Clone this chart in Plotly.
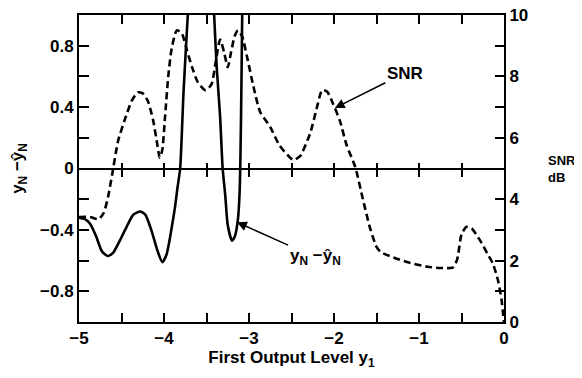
import plotly.graph_objects as go

# ---- data ----
snr_x = [-5.0, -4.87, -4.77, -4.71, -4.66, -4.61, -4.54, -4.46, -4.38, -4.31, -4.25, -4.19,
         -4.13, -4.08, -4.05, -4.02, -3.99, -3.95, -3.91, -3.85, -3.79, -3.73, -3.67, -3.60,
         -3.51, -3.44, -3.39, -3.34, -3.29, -3.25, -3.21, -3.17, -3.13, -3.08, -3.02, -2.95,
         -2.87, -2.75, -2.64, -2.48, -2.40, -2.28, -2.20, -2.14, -2.08, -2.01, -1.93, -1.85,
         -1.75, -1.66, -1.58, -1.50, -1.45, -1.30, -1.10, -0.90, -0.75, -0.60, -0.55, -0.50,
         -0.44, -0.38, -0.28, -0.19, -0.13, -0.07, -0.03, -0.01, 0.0]
snr_db = [3.42, 3.42, 3.35, 3.55, 4.05, 4.8, 5.9, 6.6, 7.2, 7.48, 7.45, 7.2,
          6.6, 5.8, 5.35, 5.6, 6.6, 8.0, 8.9, 9.5, 9.4, 8.85, 8.3, 7.8,
          7.55, 7.75, 8.5, 9.2, 8.75, 8.3, 8.8, 9.3, 9.5, 9.3, 8.6, 7.7,
          6.85, 6.35, 5.75, 5.28, 5.4, 6.15, 7.0, 7.55, 7.5, 7.1, 6.55, 5.75,
          5.05, 4.0, 3.1, 2.45, 2.28, 2.1, 1.92, 1.8, 1.76, 1.78, 2.05, 2.85,
          3.1, 3.05, 2.65, 2.2, 1.9, 1.35, 0.75, 0.25, 0.0]

err_x = [-5.0, -4.93, -4.87, -4.80, -4.73, -4.66, -4.60, -4.52, -4.44, -4.36, -4.28, -4.22,
         -4.15, -4.08, -4.02, -3.97, -3.92, -3.87, -3.84, -3.81, -3.77, -3.72, -3.66, -3.56,
         -3.45, -3.41, -3.38, -3.34, -3.31, -3.28, -3.25, -3.20, -3.165, -3.13, -3.11, -3.10,
         -3.09, -3.08, -3.07]
err_y = [-0.32, -0.33, -0.36, -0.44, -0.54, -0.57, -0.55, -0.47, -0.38, -0.30, -0.28, -0.30,
         -0.40, -0.53, -0.61, -0.56, -0.42, -0.25, -0.12, 0.0, 0.5, 1.0, 1.5, 2.0,
         1.5, 1.0, 0.66, 0.34, 0.0, -0.17, -0.37, -0.47, -0.44, -0.33, -0.15, 0.1,
         0.5, 1.0, 1.5]

x_tickvals = [-5, -4, -3, -2, -1, 0]
x_ticktext = ["\u22125", "\u22124", "\u22123", "\u22122", "\u22121", "0"]
x_minorvals = [-4.5, -3.5, -2.5, -1.5, -0.5]
x_inner_ticks = [-4.5, -4.0, -3.5, -3.0, -2.5, -2.0, -1.5, -1.0, -0.5]
y_tickvals = [-0.8, -0.4, 0.0, 0.4, 0.8]
y_ticktext = ["\u22120.8", "\u22120.4", "0", "0.4", "0.8"]
y_minorvals = [-0.6, -0.2, 0.2, 0.6]
y2_tickvals = [0, 2, 4, 6, 8, 10]
y2_ticktext = ["0", "2", "4", "6", "8", "10"]
y2_minorvals = [1, 3, 5, 7, 9]

FONT = "Liberation Sans, Arial, sans-serif"
TK = dict(ticks="inside", tickwidth=1.5, tickcolor="black")

fig = go.Figure()
fig.add_trace(go.Scatter(x=snr_x, y=snr_db, xaxis="x3", yaxis="y2", mode="lines",
                         line=dict(color="black", width=2.6, dash="7px,4px", shape="spline", smoothing=0.6),
                         hoverinfo="skip"))
fig.add_trace(go.Scatter(x=err_x, y=err_y, xaxis="x", yaxis="y", mode="lines",
                         line=dict(color="black", width=2.6, shape="spline", smoothing=0.6),
                         hoverinfo="skip"))

# page body has an 8px margin, so the figure is sized to fit the 582x378 window
fig.update_layout(
    width=566, height=362,
    margin=dict(l=71, r=70, t=7, b=48),
    paper_bgcolor="white", plot_bgcolor="white",
    showlegend=False,
    font=dict(family=FONT, size=17, color="black", weight="bold"),
    xaxis=dict(range=[-5, 0], tickvals=x_tickvals, ticktext=x_ticktext, ticklen=9, **TK,
               minor=dict(tickvals=x_minorvals, ticklen=9, **TK),
               showline=True, linewidth=2, linecolor="black", mirror="ticks",
               showgrid=False, zeroline=False, automargin=False, ticklabeloverflow="allow",
               title=dict(text="First Output Level y<sub>1</sub>", standoff=4,
                          font=dict(family=FONT, size=17, weight="bold"))),
    xaxis3=dict(range=[-5, 0], overlaying="x", anchor="free", position=0.5 + 7 / 307,
                tickvals=x_inner_ticks, ticks="outside", ticklen=14, tickwidth=1.5,
                tickcolor="black", showticklabels=False, showline=False, automargin=False,
                showgrid=False, zeroline=False, side="bottom"),
    yaxis=dict(range=[-1, 1], tickvals=y_tickvals, ticktext=y_ticktext, ticklen=10, **TK,
               minor=dict(tickvals=y_minorvals, ticklen=10, **TK),
               showline=True, linewidth=2, linecolor="black", automargin=False,
               ticklabeloverflow="allow",
               showgrid=False, zeroline=True, zerolinecolor="black", zerolinewidth=1.6,
               title=dict(text="y<sub>N</sub> \u2212\u0177<sub>N</sub>", standoff=12,
                          font=dict(family=FONT, size=17, weight="bold"))),
    yaxis2=dict(range=[0, 10], overlaying="y", side="right", anchor="x",
                tickvals=y2_tickvals, ticktext=y2_ticktext, ticklen=9, **TK,
                minor=dict(tickvals=y2_minorvals, ticklen=9, **TK),
                showline=True, linewidth=2, linecolor="black", automargin=False,
                ticklabeloverflow="allow",
                showgrid=False, zeroline=False),
)

fig.add_annotation(x=-1.99, y=6.97, xref="x", yref="y2", text="SNR",
                   showarrow=True, ax=70, ay=-35, arrowhead=2, arrowsize=1.3,
                   arrowwidth=1.5, arrowcolor="black", standoff=0,
                   font=dict(family=FONT, size=17, weight="bold"))
fig.add_annotation(x=-3.14, y=-0.35, xref="x", yref="y", text="y<sub>N</sub> \u2212\u0177<sub>N</sub>",
                   showarrow=True, ax=78, ay=35, arrowhead=2, arrowsize=1.3,
                   arrowwidth=1.5, arrowcolor="black", standoff=0,
                   font=dict(family=FONT, size=17, weight="bold"))
fig.add_annotation(x=1.099, y=0.5, xref="paper", yref="paper", text="SNR<br>dB",
                   showarrow=False, xanchor="left", yanchor="middle", align="left",
                   font=dict(family=FONT, size=13, weight="bold"))

fig.write_html("out.html")
